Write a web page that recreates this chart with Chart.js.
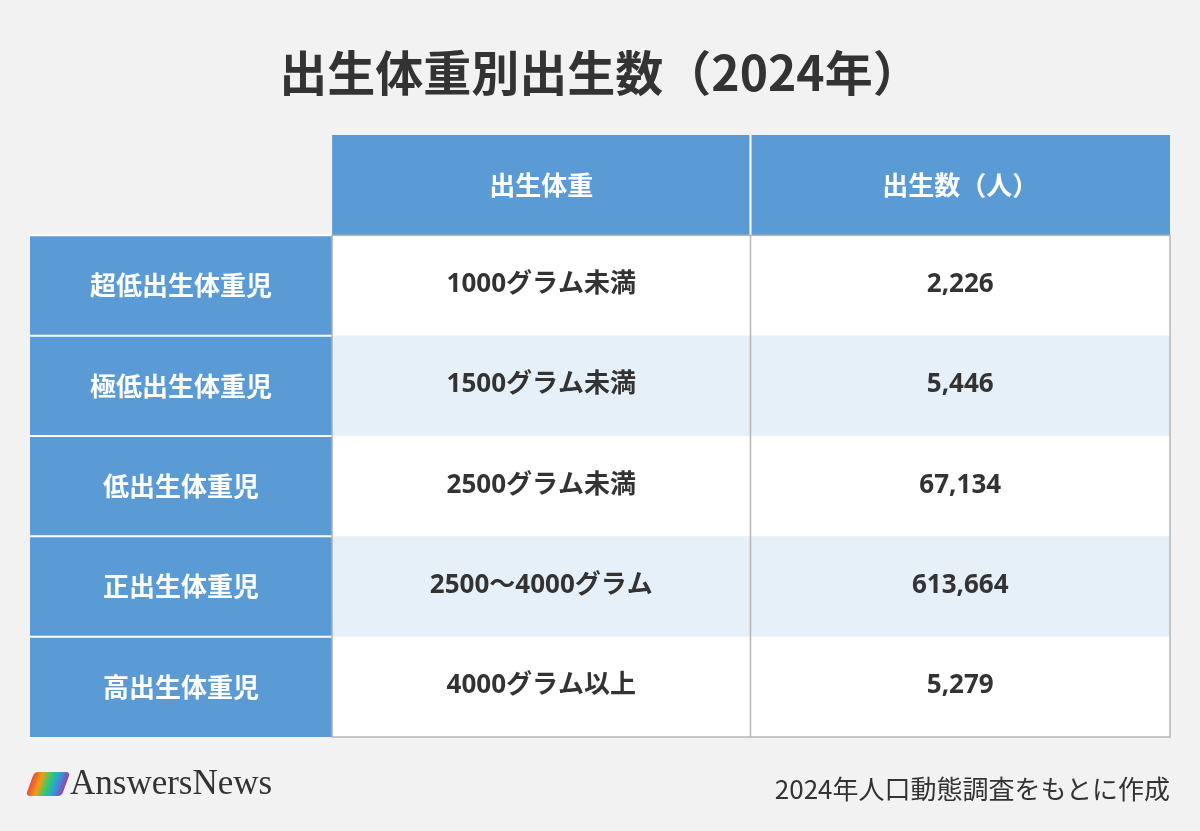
<!DOCTYPE html>
<html><head><meta charset="utf-8">
<script src="https://cdn.jsdelivr.net/npm/chart.js@4/dist/chart.umd.min.js"></script>
<style>
body{margin:0;background:#f2f2f2;font-family:"Noto Sans CJK JP","Noto Sans",sans-serif;}
#wrap{position:relative;width:1200px;height:831px;}
#title{position:absolute;top:34px;left:0;width:1200px;text-align:center;font-size:48px;font-weight:bold;color:#333;line-height:72px;}
#src{position:absolute;right:30px;top:768px;font-size:26px;color:#333;line-height:40px;}
#logo{position:absolute;left:30px;top:763px;font-family:"Liberation Serif",serif;font-size:35px;color:#333;}
#logo span{display:inline-block;width:36px;height:24px;margin-right:4px;vertical-align:-2px;background:linear-gradient(90deg,#e84c3d,#f39c12,#2ecc71,#3498db,#8e44ad);transform:skewX(-20deg);border-radius:4px;}
</style></head><body>
<div id="wrap">
<div id="title">出生体重別出生数（2024年）</div>
<canvas id="tableChart" width="1200" height="831"></canvas>
<div id="logo"><span></span>AnswersNews</div>
<div id="src">2024年人口動態調査をもとに作成</div>
</div>
<script>
const headers = ["", "出生体重", "出生数（人）"];
const categories = ["超低出生体重児", "極低出生体重児", "低出生体重児", "正出生体重児", "高出生体重児"];
const weights = ["1000グラム未満", "1500グラム未満", "2500グラム未満", "2500～4000グラム", "4000グラム以上"];
const births = [2226, 5446, 67134, 613664, 5279];

const rows = ["header"].concat(categories);

// draws the table cells on the chart's scales
const tablePlugin = {
  id: "tablePlugin",
  afterDraw(chart) {
    const ctx = chart.ctx;
    const y = chart.scales.y;
    const area = chart.chartArea;
    const w = area.right - area.left;
    const c1 = area.left + w * 0.265;
    const c2 = area.left + w * 0.632;
    const cols = [[area.left, c1], [c1, c2], [c2, area.right]];
    const band = y.getPixelForValue(1) - y.getPixelForValue(0);
    ctx.save();
    ctx.textAlign = "center";
    ctx.textBaseline = "middle";
    rows.forEach((r, i) => {
      const cy = y.getPixelForValue(i);
      const top = cy - band / 2;
      const texts = i === 0 ? headers : [categories[i - 1], weights[i - 1], births[i - 1].toLocaleString("en-US")];
      cols.forEach((c, j) => {
        if (i === 0 && j === 0) return;
        let fill, color;
        const head = i === 0 || j === 0;
        if (head) { fill = "#5b9bd5"; color = "#fff"; }
        else { fill = i % 2 === 0 ? "#e6f0f9" : "#ffffff"; color = "#333"; }
        ctx.fillStyle = fill;
        ctx.fillRect(c[0], top, c[1] - c[0], band);
        ctx.fillStyle = color;
        ctx.font = head ? 'bold 26px "Noto Sans CJK JP", sans-serif' : 'bold 26px "Noto Sans", "Noto Sans CJK JP", sans-serif';
        ctx.fillText(texts[j], (c[0] + c[1]) / 2, head ? cy : cy - 1);
      });
      ctx.strokeStyle = "#ffffff";
      ctx.lineWidth = 2;
      if (i > 0) {
        ctx.beginPath(); ctx.moveTo(area.left, top); ctx.lineTo(c1, top); ctx.stroke();
      }
    });
    ctx.strokeStyle = "#ffffff";
    ctx.beginPath(); ctx.moveTo(c2, area.top); ctx.lineTo(c2, area.top + band); ctx.stroke();
    ctx.strokeStyle = "#b5b5b5";
    ctx.lineWidth = 1.5;
    ctx.beginPath(); ctx.moveTo(c2, area.top + band); ctx.lineTo(c2, area.bottom); ctx.stroke();
    ctx.strokeRect(c1, area.top + band, area.right - c1, area.bottom - area.top - band);
    ctx.restore();
  }
};

new Chart(document.getElementById("tableChart"), {
  type: "scatter",
  data: {
    labels: rows,
    datasets: [{ data: rows.map((r, i) => ({ x: 0, y: i })), pointRadius: 0 }]
  },
  options: {
    responsive: false,
    animation: false,
    layout: { padding: { left: 30, right: 30, top: 135, bottom: 94 } },
    plugins: { legend: { display: false }, tooltip: { enabled: false }, title: { display: false } },
    scales: {
      x: { type: "linear", min: 0, max: 1, display: false },
      y: { type: "category", labels: rows, offset: true, display: false }
    }
  },
  plugins: [tablePlugin]
});
</script>
</body></html>
